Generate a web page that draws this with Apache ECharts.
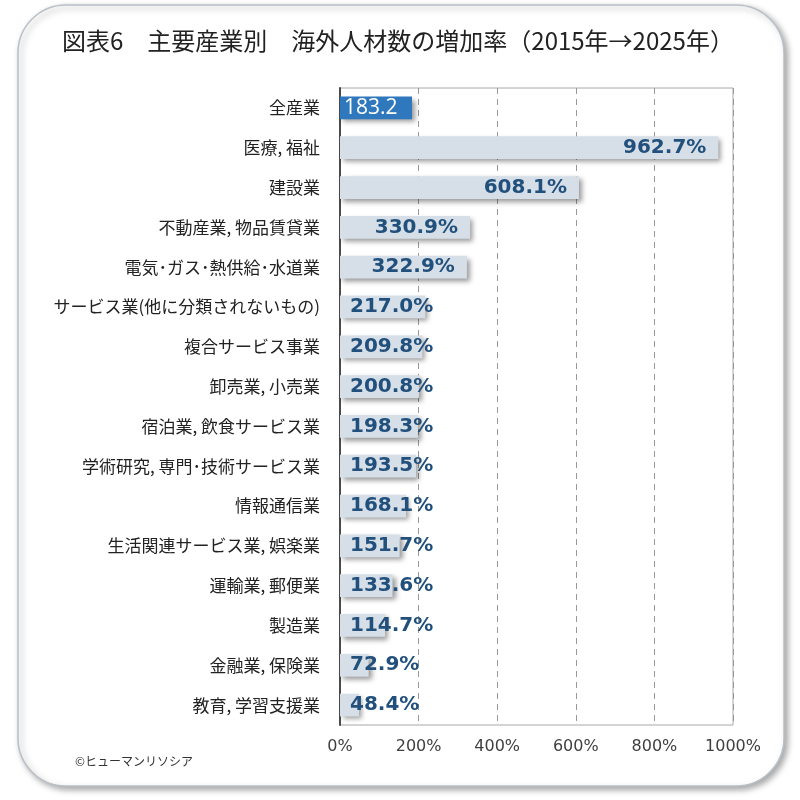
<!DOCTYPE html>
<html>
<head>
<meta charset="utf-8">
<script src="https://cdn.jsdelivr.net/npm/echarts@6/dist/echarts.min.js"></script>
<style>
  html, body { margin: 0; padding: 0; background: #fff; }
  #chart { width: 800px; height: 800px; }
</style>
</head>
<body>
<div id="chart"></div>
<script>
var categories = [
  '全産業', '医療, 福祉', '建設業', '不動産業, 物品賃貸業', '電気･ガス･熱供給･水道業',
  'サービス業(他に分類されないもの)', '複合サービス事業', '卸売業, 小売業', '宿泊業, 飲食サービス業',
  '学術研究, 専門･技術サービス業', '情報通信業', '生活関連サービス業, 娯楽業', '運輸業, 郵便業',
  '製造業', '金融業, 保険業', '教育, 学習支援業'
];
var rates = [183.2, 962.7, 608.1, 330.9, 322.9, 217.0, 209.8, 200.8, 198.3, 193.5, 168.1, 151.7, 133.6, 114.7, 72.9, 48.4];
var xTicks = [0, 200, 400, 600, 800, 1000];

var jp = '"Noto Sans CJK JP", sans-serif';

var barData = rates.map(function (v, i) {
  var item = { value: v };
  if (i === 0) {
    item.itemStyle = { color: '#2f78bd' };
    item.label = {
      position: 'insideLeft', distance: 4, color: '#fff', fontWeight: 'normal',
      fontFamily: '"Open Sans", sans-serif', fontSize: 21,
      width: 68, overflow: 'truncate', ellipsis: ''
    };
  } else if (v < 250) {
    item.label = { position: 'insideLeft', distance: 10 };
  } else {
    item.label = { position: 'insideRight', distance: 12 };
  }
  return item;
});

var chart = echarts.init(document.getElementById('chart'));
chart.setOption({
  animation: false,
  backgroundColor: '#fff',
  graphic: [
    {
      type: 'rect', z: -10, silent: true,
      shape: { x: 18, y: 5, width: 766, height: 781, r: 48 },
      style: {
        fill: '#fff', stroke: '#b9c0c8', lineWidth: 1.5,
        shadowBlur: 6, shadowOffsetX: 3, shadowOffsetY: 3, shadowColor: 'rgba(0,0,0,0.35)'
      }
    },
    {
      type: 'text', left: 62, top: 29, silent: true,
      style: { text: '図表6　主要産業別　海外人材数の増加率（2015年→2025年）', font: '24px ' + jp, fill: '#222' }
    },
    {
      type: 'text', left: 75, top: 755, silent: true,
      style: { text: '©ヒューマンリソシア', font: '12px ' + jp, fill: '#333' }
    }
  ],
  grid: {
    left: 340, right: 67, top: 88, bottom: 75,
    show: true, borderColor: '#a8a8a8', borderWidth: 1, backgroundColor: 'transparent'
  },
  xAxis: {
    type: 'value', min: 0, max: 1000, interval: 200,
    axisLine: { show: false }, axisTick: { show: false },
    splitLine: { show: true, lineStyle: { type: [6, 5], color: '#999', width: 1 } },
    axisLabel: {
      margin: 14, color: '#404040', fontSize: 16, fontFamily: '"DejaVu Sans", sans-serif',
      formatter: function (v) { return xTicks.indexOf(v) >= 0 ? v + '%' : ''; }
    }
  },
  yAxis: {
    type: 'category', data: categories, inverse: true,
    axisLine: { show: true, lineStyle: { color: '#4a4a4a', width: 2 } },
    axisTick: { show: false },
    axisLabel: { margin: 20, color: '#222', fontSize: 17, fontFamily: jp }
  },
  series: [{
    type: 'bar', data: barData, barWidth: '57%',
    itemStyle: {
      color: '#d6dfe7',
      shadowBlur: 5, shadowOffsetX: 3, shadowOffsetY: 3, shadowColor: 'rgba(0,0,0,0.4)'
    },
    label: {
      show: true, color: '#22507c', fontWeight: 'bold', fontSize: 20,
      fontFamily: '"DejaVu Sans", sans-serif',
      formatter: function (p) { return p.value.toFixed(1) + '%'; }
    }
  }]
});
</script>
</body>
</html>
